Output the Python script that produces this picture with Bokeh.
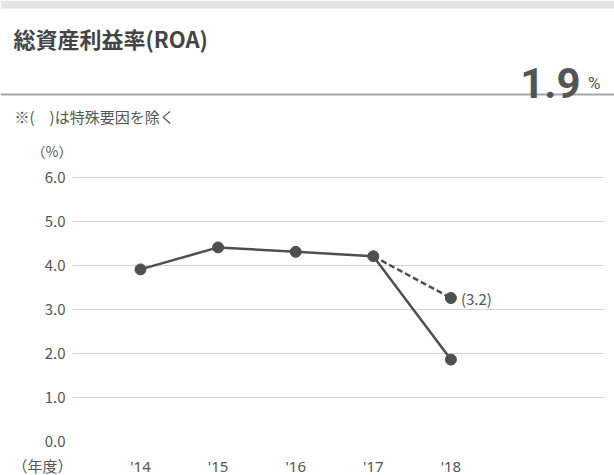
from bokeh.plotting import figure
from bokeh.models import Range1d, FixedTicker, Label, BoxAnnotation
from bokeh.embed import file_html
from bokeh.resources import INLINE

# ---- data ----
years = [2014, 2015, 2016, 2017, 2018]
year_labels = ["'14", "'15", "'16", "'17", "'18"]
roa = [3.9, 4.4, 4.3, 4.2, 1.85]
adj_years = [2017, 2018]
adj_roa = [4.2, 3.25]
adj_label = "(3.2)"
y_ticks = [0, 1, 2, 3, 4, 5, 6]
grid_ticks = [1, 2, 3, 4, 5, 6]
title_text = "総資産利益率(ROA)"
headline_value = "1.9"
headline_unit = "%"
note_text = "※(　)は特殊要因を除く"
y_unit = "（%）"
x_unit = "（年度）"

W, H = 614, 475
# layout anchors (canvas px): the frame covers the whole canvas
PX_FIRST, PX_STEP = 140.0, 77.6      # x px of first year, px per year
PX_ZERO, PX_UNIT = 440.5, 44.0       # y px of 0 %, px per 1 %
PLOT_L, PLOT_R = 72, 603             # extent of the plotting area

X0 = years[0] - PX_FIRST / PX_STEP
X1 = X0 + W / PX_STEP
Y1 = PX_ZERO / PX_UNIT
Y0 = Y1 - H / PX_UNIT

JP = "Noto Sans CJK JP"
INK = "#4f4f4f"
TXT = "#555555"


def xd(px):
    return X0 + px / PX_STEP


def yd(py):
    return Y1 - py / PX_UNIT


p = figure(width=W, height=H, output_backend="svg", toolbar_location=None,
           x_range=Range1d(X0, X1), y_range=Range1d(Y0, Y1),
           min_border=0, min_border_left=0, min_border_right=0,
           min_border_top=0, min_border_bottom=0)
p.outline_line_color = None
p.background_fill_color = "white"
p.border_fill_color = "white"

# axes, pinned inside the full-canvas frame
p.xaxis.ticker = FixedTicker(ticks=years)
p.xaxis.major_label_overrides = {y: l for y, l in zip(years, year_labels)}
p.yaxis.ticker = FixedTicker(ticks=y_ticks)
p.yaxis.major_label_overrides = {t: f"{t:.1f}" for t in y_ticks}
for ax in (p.xaxis[0], p.yaxis[0]):
    ax.axis_line_color = None
    ax.major_tick_line_color = None
    ax.minor_tick_line_color = None
    ax.major_tick_out = 0
    ax.major_tick_in = 0
    ax.minor_tick_out = 0
    ax.minor_tick_in = 0
    ax.major_label_text_font_size = "15px"
    ax.major_label_text_color = TXT
p.yaxis.major_label_text_font = JP
p.xaxis.major_label_text_font = "Noto Sans"
p.yaxis.fixed_location = xd(PLOT_L)
p.xaxis.fixed_location = yd(442)
p.yaxis.major_label_standoff = 7
p.xaxis.major_label_standoff = 13

p.xgrid.grid_line_color = None
yg = p.ygrid[0]
yg.ticker = FixedTicker(ticks=grid_ticks)
yg.grid_line_color = "#d4d4d4"
yg.grid_line_width = 1
if "cross_bounds" in yg.properties():
    yg.cross_bounds = (xd(PLOT_L), xd(PLOT_R))
else:
    yg.grid_line_color = None
    p.segment(x0=[xd(PLOT_L)] * len(grid_ticks), x1=[xd(PLOT_R)] * len(grid_ticks),
              y0=grid_ticks, y1=grid_ticks, line_color="#d4d4d4", line_width=1)

# series
p.line(adj_years, adj_roa, line_color=INK, line_width=2.5, line_dash="6 3")
p.line(years, roa, line_color=INK, line_width=2.5)
p.scatter(adj_years[1:], adj_roa[1:], size=11, color=INK)
p.scatter(years, roa, size=11, color=INK)
p.add_layout(Label(x=adj_years[1], y=adj_roa[1], text=adj_label, x_offset=10,
                   text_baseline="middle", text_font=JP, text_font_size="15px",
                   text_color=TXT))


def lab(text, x, y, size, align="left", baseline="middle", bold=False,
        font=JP, color=TXT):
    p.add_layout(Label(x=xd(x), y=yd(y), text=text, text_font=font,
                       text_font_size=size, text_align=align,
                       text_baseline=baseline,
                       text_font_style="bold" if bold else "normal",
                       text_color=color))


def band(top, bottom, color):
    p.add_layout(BoxAnnotation(left=X0, right=X1, top=yd(top), bottom=yd(bottom),
                               fill_color=color, fill_alpha=1, line_alpha=0))


band(0, 8, "#e4e4e4")
band(93, 95, "#a6a6a6")

lab(title_text, 13, 37, "22px", bold=True, color="#444444")
lab(headline_value, 580, 82, "42px", align="right", baseline="alphabetic",
    bold=True, font="Roboto", color="#555555")
lab(headline_unit, 600, 82, "17px", align="right", baseline="alphabetic",
    font="Roboto", color="#555555")
lab(note_text, 14, 116, "15px")
lab(y_unit, 72, 150, "14px", align="right")
lab(x_unit, 72, 465, "15px", align="right")

open("out.html", "w").write(file_html(p, INLINE))
